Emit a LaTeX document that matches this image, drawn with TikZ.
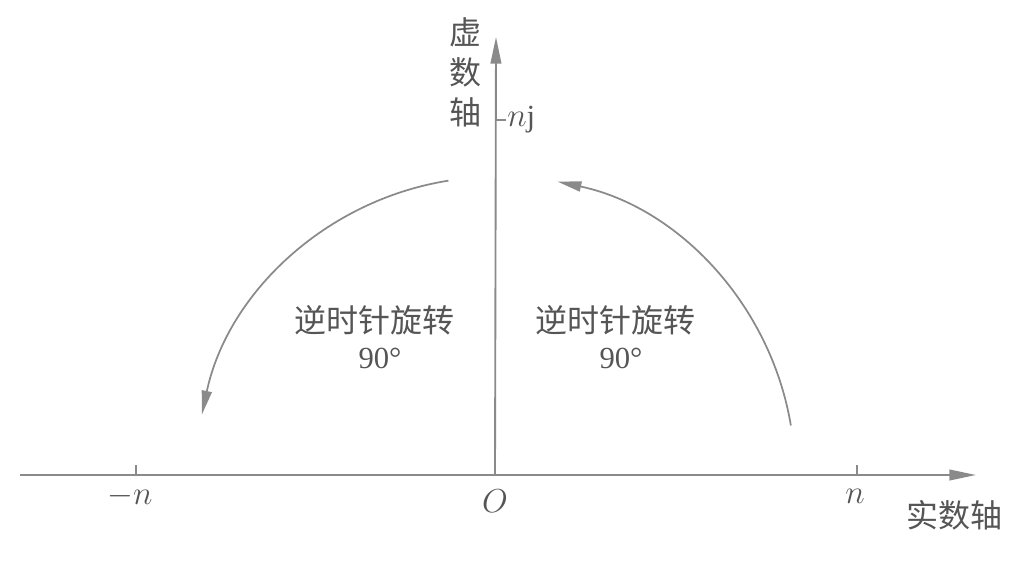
\documentclass[tikz,border=0pt]{standalone}
\usepackage{fontspec}
\setmainfont{Liberation Serif}
\newfontfamily\cjk{Noto Sans CJK SC}
\usetikzlibrary{arrows.meta}
\definecolor{linecol}{HTML}{8A8A8A}
\definecolor{textcol}{HTML}{555555}
\tikzset{
  axisline/.style={draw=linecol, line width=1.4pt, -{Triangle[length=20pt,width=8pt]}},
  rotarc/.style={draw=linecol, line width=1.3pt, -{Triangle[length=18pt,width=7.5pt]}},
  tickline/.style={draw=linecol, line width=1.1pt},
  cjklabel/.style={text=textcol, font=\cjk\fontsize{24}{30}\selectfont, inner sep=0pt},
  numlabel/.style={text=textcol, font=\fontsize{23}{26}\selectfont, inner sep=0pt},
}
\begin{document}
\begin{tikzpicture}[x=0.75pt,y=0.75pt]
\useasboundingbox (0,0) rectangle (1024,564);
\coordinate (o) at (495,89);
\coordinate (xstart) at (20,89);
\coordinate (xend) at (976,89);
\coordinate (yend) at (496,527);
\coordinate (tnl) at (136,89);
\coordinate (tnlt) at (136,99);
\coordinate (tnr) at (857,89);
\coordinate (tnrt) at (857,99);
\coordinate (tj) at (496,444);
\coordinate (tjt) at (506,444);
% axes
\draw[axisline] (xstart) -- (xend);
\draw[axisline] (o) -- (yend);
% ticks
\draw[tickline] (tnl) -- (tnlt);
\draw[tickline] (tnr) -- (tnrt);
\draw[tickline] (tj) -- (tjt);
% arcs
\draw[rotarc] (o) ++(9.5:300) arc[start angle=9.5, end angle=78, radius=300];
\draw[rotarc] (o) ++(99:298) arc[start angle=99, end angle=168, radius=300];
% labels
\node[cjklabel, align=center] (imag) at (465,492) {虚\\数\\轴};
\node[numlabel, anchor=west] (nj) at (507,444) {$n$j};
\node[numlabel] (mn) at (130,68) {$-n$};
\node[numlabel] (oo) at (495,63) {$O$};
\node[numlabel] (pn) at (855,68) {$n$};
\node[cjklabel] (real) at (954,49) {实数轴};
\node[cjklabel] (rl) at (374,244) {逆时针旋转};
\node[numlabel] (dl) at (380,206) {90°};
\node[cjklabel] (rr) at (615,244) {逆时针旋转};
\node[numlabel] (dr) at (621,206) {90°};
\end{tikzpicture}
\end{document}
